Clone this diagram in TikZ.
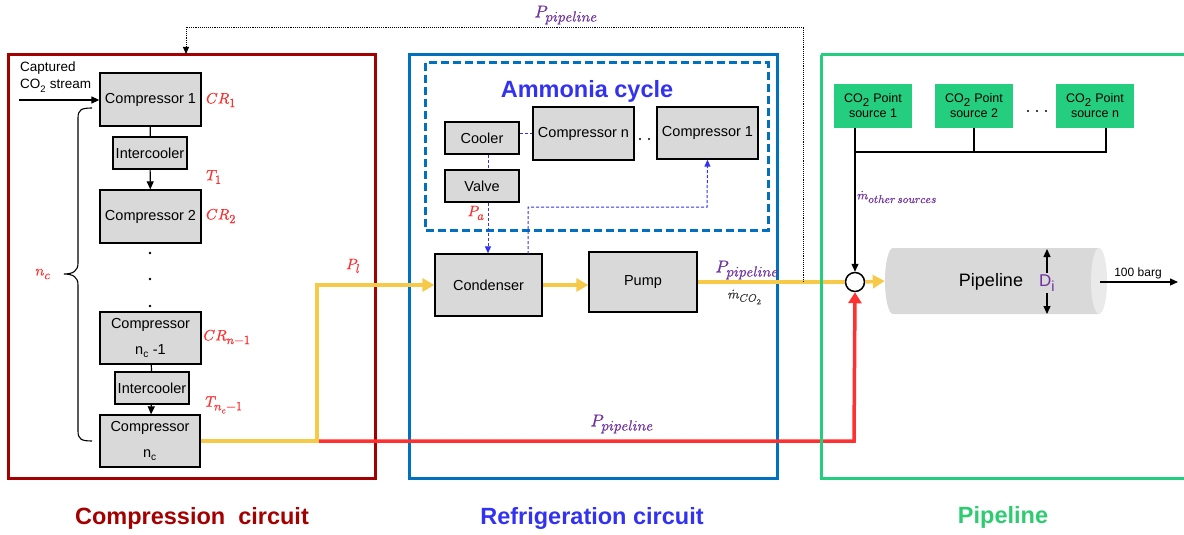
\documentclass[tikz,border=0pt]{standalone}
\usepackage{fontspec}
\usepackage{unicode-math}
\setmainfont{Liberation Sans}
\setmathfont{Latin Modern Math}[FakeBold=0.6]
\DeclareMathSizes{15}{15}{12.5}{9}
\DeclareMathSizes{17}{17}{14.5}{10}
\DeclareMathSizes{13}{13}{11}{8}
\DeclareMathSizes{12.5}{12.5}{11.5}{8}
\usetikzlibrary{arrows.meta}
\definecolor{cdred}{RGB}{165,0,0}
\definecolor{cblue}{RGB}{0,112,192}
\definecolor{cgreen}{RGB}{36,206,126}
\definecolor{tgreen}{RGB}{46,204,113}
\definecolor{bgray}{RGB}{217,217,217}
\definecolor{lgray}{RGB}{234,234,234}
\definecolor{cyel}{RGB}{246,201,72}
\definecolor{cred}{RGB}{255,48,48}
\definecolor{lred}{RGB}{255,45,45}
\definecolor{cpurple}{RGB}{112,48,160}
\definecolor{ablue}{RGB}{50,50,240}
\begin{document}
\begin{tikzpicture}[x=1pt,y=-1pt,
  box/.style={draw=black, line width=1.3pt, fill=bgray, inner sep=0pt, align=center, font=\fontsize{14.5}{17}\selectfont},
  src/.style={fill=cgreen, inner sep=0pt, minimum width=78, minimum height=44, align=center, font=\fontsize{12.5}{15}\selectfont},
  frame/.style={line width=3pt},
  title/.style={font=\fontsize{23.5}{28}\selectfont\bfseries},
  mlab/.style={text=lred, font=\fontsize{15}{18}\selectfont, inner sep=1pt},
  plab/.style={text=cpurple, font=\fontsize{17}{20}\selectfont, inner sep=1pt},
  yel/.style={draw=cyel, line width=3.5pt},
  yarr/.style={yel, -{Triangle[length=12pt,width=13pt]}},
  redl/.style={draw=cred, line width=3.5pt},
  barr/.style={line width=1.2pt, -{Triangle[length=8pt,width=7pt]}},
  bdash/.style={draw=ablue, line width=1pt, dash pattern=on 3pt off 2pt},
  bdarr/.style={bdash, -{Triangle[length=7pt,width=6pt]}}
]
\useasboundingbox (0,0) rectangle (1184,535);

% frames
\draw[frame, draw=cdred] (8,55) rectangle (375,478);
\draw[frame, draw=cblue] (409,55) rectangle (777,478);
\draw[draw=cblue, line width=3pt, dash pattern=on 8pt off 4pt] (425,63) rectangle (768,230);

% titles
\node[title, text=cdred] (t1) at (192,518) {Compression\ \ circuit};
\node[title, text=ablue] (t2) at (592,518) {Refrigeration circuit};
\node[title, text=tgreen] (t3) at (1003,517) {Pipeline};
\node[title, text=ablue] (t4) at (587,91) {Ammonia cycle};

% compression circuit
\node[box, minimum width=101, minimum height=53] (c1) at (150.5,99.5) {Compressor 1};
\node[box, minimum width=74, minimum height=32] (ic1) at (150,153) {Intercooler};
\node[box, minimum width=101, minimum height=53] (c2) at (150.5,216.5) {Compressor 2};
\node[box, minimum width=101, minimum height=52] (cm1) at (150.5,338) {Compressor\\[9pt] n\textsubscript{c} -1};
\node[box, minimum width=74, minimum height=32] (ic2) at (152,388) {Intercooler};
\node[box, minimum width=100, minimum height=52] (cn) at (150,441) {Compressor\\[9pt] n\textsubscript{c}};
\foreach \yy in {253,279,306} \fill (150,\yy) circle (1.3);

\draw[line width=1.2pt] (c1) -- (ic1);
\draw[barr] (ic1) -- (c2);
\draw[line width=1.2pt] (cm1) -- (ic2);
\draw[barr] (ic2) -- (cn);

\node[align=left, anchor=north west, inner sep=0pt, font=\fontsize{13.5}{17}\selectfont] (cap) at (20,62) {Captured\\CO\textsubscript{2} stream};
\coordinate (capin) at (19,100);
\draw[barr] (capin) -- (c1.west |- capin);

\draw[line width=1.1pt] (92,108) .. controls (81,108) and (78,110) .. (78,118) -- (78,263) .. controls (78,271) and (73,274) .. (64,274) .. controls (73,274) and (78,277) .. (78,285) -- (78,431) .. controls (78,439) and (81,441) .. (92,441);
\node[mlab] (nc) at (43,274) {$n_c$};

\node[mlab] (cr1) at (221,100) {$CR_1$};
\node[mlab] (tt1) at (214,177) {$T_1$};
\node[mlab] (cr2) at (221,216) {$CR_2$};
\node[mlab] (crn) at (227,337) {$CR_{n-1}$};
\node[mlab] (ttn) at (224,405) {$T_{n_c-1}$};
\node[mlab] (pl) at (353,266) {$P_l$};

% refrigeration
\node[box, minimum width=74, minimum height=32] (cool) at (482,138) {Cooler};
\node[box, minimum width=74, minimum height=32] (valve) at (482,186) {Valve};
\node[box, minimum width=101, minimum height=53] (compn) at (583.5,133.5) {Compressor n};
\node[box, minimum width=101, minimum height=52] (comp1) at (707.5,133) {Compressor 1};
\fill (640,139) circle (1.2) (649,139) circle (1.2);
\node[box, minimum width=107, minimum height=62] (cond) at (488.5,285) {Condenser};
\node[box, minimum width=108, minimum height=60] (pump) at (643,282) {Pump};

\coordinate (vx) at (488,0);
\draw[bdash] (compn.west -| cool.east) -- (compn.west);
\draw[bdash] (cool.south -| vx) -- (valve.north -| vx);
\draw[bdarr] (valve.south -| vx) -- (cond.north -| vx);
\coordinate (cdo) at (528,254);
\draw[bdarr] (cdo) -- (528,207) -- (707,207) -- (comp1.south);
\node[mlab] (pa) at (476,213) {$P_a$};

% pipeline section
\draw[frame, draw=cgreen] (821,55) -- (1190,55) (821,55) -- (821,478) -- (1190,478);
\node[src] (s1) at (873,106) {CO\textsubscript{2} Point\\source 1};
\node[src] (s2) at (974,106) {CO\textsubscript{2} Point\\source 2};
\node[src] (sn) at (1095,106) {CO\textsubscript{2} Point\\source n};
\foreach \xx in {1028,1037,1046} \fill (\xx,111) circle (1.2);

\fill[bgray] (1099,248) -- (893,248) arc[start angle=270,end angle=90,x radius=8,y radius=33] -- (1099,314) -- cycle;
\fill[lgray] (1099,281) ellipse [x radius=8, y radius=33];
\node[minimum width=222, minimum height=66, inner sep=0pt] (pipe) at (996,281) {};
\node[font=\fontsize{18}{21}\selectfont] (ptxt) at (991,282) {Pipeline};
\node[text=cpurple, font=\fontsize{17}{20}\selectfont, inner sep=2pt] (di) at (1047,283) {D\textsubscript{i}};
\coordinate (ditop) at (1047,249);
\coordinate (dibot) at (1047,314);
\draw[barr] (di.north) -- (ditop);
\draw[barr] (di.south) -- (dibot);

\node[circle, draw, line width=1.5pt, fill=white, minimum size=19, inner sep=0pt] (jn) at (855,282) {};

\coordinate (b1) at (855,128);
\coordinate (bn) at (1106,128);
\draw[line width=1.2pt] (s2.south) -- (974,152);
\draw[line width=1.2pt] (bn) -- (1106,152) -- (855,152);
\draw[barr] (b1) -- (jn.north);
\node[text=cpurple, anchor=west, inner sep=0pt, font=\fontsize{12.5}{15}\selectfont] (mo) at (857,197) {$\dot m_{other\,sources}$};

\coordinate (outA) at (1100,282);
\coordinate (outB) at (1178,282);
\draw[barr] (outA) -- (outB);
\node[font=\fontsize{12}{14}\selectfont, inner sep=1pt] (bar) at (1138,273) {100 barg};

% main streams
\draw[redl, -{Triangle[length=11pt,width=13pt]}] (318,441) -- (854,441) -- (jn.south);
\draw[yel] (cn.east) -- (317,441) -- (317,285) -- (320,285);
\draw[yarr] (317,285) -- (cond.west);
\draw[yarr] (cond.east) -- (cond.east -| pump.west);
\draw[yel] (pump.east) -- (jn.west);
\draw[yarr] (jn.east) -- (pipe.west);
\draw[draw=cgreen, line width=3pt] (821,270) -- (821,300) (821,430) -- (821,450);

\coordinate (dt) at (803,282);
\coordinate (rtop) at (186,54);
\draw[line width=0.9pt, densely dotted, -{Triangle[length=7pt,width=6pt]}] (dt) -- (803,27) -- (186,27) -- (rtop);

\node[plab] (pp1) at (566,15) {$P_{pipeline}$};
\node[plab] (pp2) at (747,270) {$P_{pipeline}$};
\node[font=\fontsize{13}{15}\selectfont, inner sep=1pt, text=black!80] (mco) at (745,297) {$\dot m_{CO_2}$};
\node[plab] (pp3) at (622,424) {$P_{pipeline}$};
\end{tikzpicture}
\end{document}
